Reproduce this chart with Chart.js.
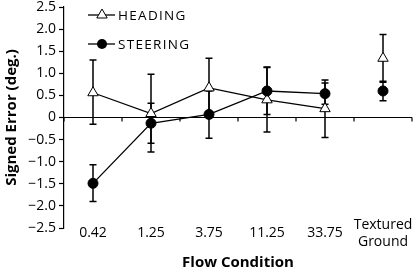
<!DOCTYPE html>
<html>
<head>
<meta charset="utf-8">
<script src="https://cdn.jsdelivr.net/npm/chart.js@4"></script>
<style>
html,body{margin:0;padding:0;background:#fff;}
#wrap{width:419px;height:270px;}
</style>
</head>
<body>
<div id="wrap"><canvas id="c" width="419" height="270"></canvas></div>
<script>
const categories = ['0.42', '1.25', '3.75', '11.25', '33.75', ['Textured', 'Ground']];
const headingValues = [0.56, 0.09, 0.67, 0.40, 0.20, 1.34];
const headingHigh   = [1.30, 0.98, 1.34, 1.14, 0.85, 1.88];
const headingLow    = [-0.15, -0.78, 0.00, -0.33, -0.45, 0.80];
const steeringValues = [-1.49, -0.13, 0.07, 0.60, 0.54, 0.60];
const steeringHigh   = [-1.07, 0.32, 0.60, 1.13, 0.78, 0.82];
const steeringLow    = [-1.90, -0.58, -0.47, 0.07, 0.30, 0.38];
const yTicks = [-2.5, -2.0, -1.5, -1.0, -0.5, 0, 0.5, 1.0, 1.5, 2.0, 2.5];
const seriesNames = ['HEADING', 'STEERING'];

const FONT = '"Open Sans", "DejaVu Sans", sans-serif';
const lastIdx = categories.length - 1;

const errorBars = {
  id: 'errorBars',
  beforeDatasetsDraw(chart) {
    const {ctx, chartArea, scales: {x, y}} = chart;
    const y0 = y.getPixelForValue(0);
    ctx.save();
    ctx.strokeStyle = '#000';
    ctx.lineWidth = 1.2;
    ctx.beginPath();
    ctx.moveTo(chartArea.left, y0);
    ctx.lineTo(chartArea.right, y0);
    for (let i = 0; i <= categories.length; i++) {
      let bx;
      if (i === 0) bx = chartArea.left;
      else if (i === categories.length) bx = chartArea.right;
      else bx = (x.getPixelForValue(i - 1) + x.getPixelForValue(i)) / 2;
      ctx.moveTo(bx, y0);
      ctx.lineTo(bx, y0 + 4);
    }
    ctx.stroke();
    const sets = [[headingLow, headingHigh], [steeringLow, steeringHigh]];
    ctx.lineWidth = 1.5;
    sets.forEach(([lo, hi]) => {
      lo.forEach((l, i) => {
        const px = x.getPixelForValue(i);
        const pl = y.getPixelForValue(l);
        const ph = y.getPixelForValue(hi[i]);
        ctx.beginPath();
        ctx.moveTo(px, pl); ctx.lineTo(px, ph);
        ctx.moveTo(px - 3.5, pl); ctx.lineTo(px + 3.5, pl);
        ctx.moveTo(px - 3.5, ph); ctx.lineTo(px + 3.5, ph);
        ctx.stroke();
      });
    });
    ctx.restore();
  }
};

const legendPlugin = {
  id: 'customLegend',
  afterDraw(chart) {
    const {ctx, chartArea} = chart;
    const x0 = chartArea.left + 24;
    const rows = [chartArea.top + 8, chartArea.top + 37];
    ctx.save();
    ctx.strokeStyle = '#000';
    ctx.lineWidth = 1.3;
    rows.forEach((ry, k) => {
      ctx.beginPath();
      ctx.moveTo(x0, ry); ctx.lineTo(x0 + 27, ry);
      ctx.stroke();
      const cx = x0 + 14;
      if (k === 0) {
        const r = 6;
        ctx.beginPath();
        ctx.moveTo(cx, ry - r);
        ctx.lineTo(cx + r * 0.866, ry + r * 0.5);
        ctx.lineTo(cx - r * 0.866, ry + r * 0.5);
        ctx.closePath();
        ctx.fillStyle = '#fff';
        ctx.fill();
        ctx.lineWidth = 1;
        ctx.stroke();
        ctx.lineWidth = 1.3;
      } else {
        ctx.beginPath();
        ctx.arc(cx, ry, 5, 0, Math.PI * 2);
        ctx.fillStyle = '#000';
        ctx.fill();
      }
      ctx.fillStyle = '#000';
      ctx.font = '13.5px ' + FONT;
      try { ctx.letterSpacing = '1.3px'; } catch (e) {}
      ctx.textBaseline = 'middle';
      ctx.textAlign = 'left';
      ctx.fillText(seriesNames[k], x0 + 30, ry + 1);
    });
    ctx.restore();
  }
};

const noGapSegment = {
  borderColor: ctx => (ctx.p1DataIndex === lastIdx ? 'rgba(0,0,0,0)' : '#000')
};

new Chart(document.getElementById('c'), {
  type: 'line',
  data: {
    labels: categories,
    datasets: [
      {
        label: seriesNames[0],
        data: headingValues,
        borderColor: '#000',
        borderWidth: 1.3,
        pointStyle: 'triangle',
        pointRadius: 6,
        pointBackgroundColor: '#fff',
        pointBorderColor: '#000',
        pointBorderWidth: 1,
        segment: noGapSegment,
        order: 1
      },
      {
        label: seriesNames[1],
        data: steeringValues,
        borderColor: '#000',
        borderWidth: 1.3,
        pointStyle: 'circle',
        pointRadius: 5,
        pointBackgroundColor: '#000',
        pointBorderColor: '#000',
        pointBorderWidth: 1,
        segment: noGapSegment,
        order: 0
      }
    ]
  },
  options: {
    responsive: false,
    animation: false,
    devicePixelRatio: 1,
    layout: {padding: {top: 5, right: 6, left: 0, bottom: 0}},
    plugins: {legend: {display: false}, tooltip: {enabled: false}},
    scales: {
      x: {
        type: 'category',
        offset: true,
        grid: {display: false, drawTicks: false},
        border: {display: false},
        ticks: {
          color: '#000',
          font: {family: FONT, size: 14, lineHeight: 1.2},
          crossAlign: 'center',
          padding: -3,
          maxRotation: 0,
          autoSkip: false
        },
        title: {
          display: true,
          text: 'Flow Condition',
          color: '#000',
          font: {family: FONT, size: 15, weight: 'bold'},
          padding: {top: 0, bottom: -2}
        },
        afterFit(s) { s.height = 42; s.paddingLeft = 0; s.paddingRight = 0; },
        afterUpdate(s) { s._computeLabelArea = () => undefined; }
      },
      y: {
        min: -2.5,
        max: 2.5,
        afterBuildTicks(s) { s.ticks = yTicks.map(v => ({value: v})); },
        grid: {display: true, drawOnChartArea: false, drawTicks: true, tickLength: 5, color: '#000', tickWidth: 1.2},
        border: {display: true, color: '#000', width: 1.2},
        ticks: {
          color: '#000',
          font: {family: FONT, size: 14},
          padding: 3,
          callback: v => (v === 0 ? '0' : v.toFixed(1).replace('-', '\u2212'))
        },
        title: {
          display: true,
          text: 'Signed Error (deg.)',
          color: '#000',
          font: {family: FONT, size: 15, weight: 'bold'},
          padding: {top: 3, bottom: 2}
        },
        afterFit(s) { s.width = 64; s.paddingTop = 0; s.paddingBottom = 0; }
      }
    }
  },
  plugins: [errorBars, legendPlugin]
});
</script>
</body>
</html>
